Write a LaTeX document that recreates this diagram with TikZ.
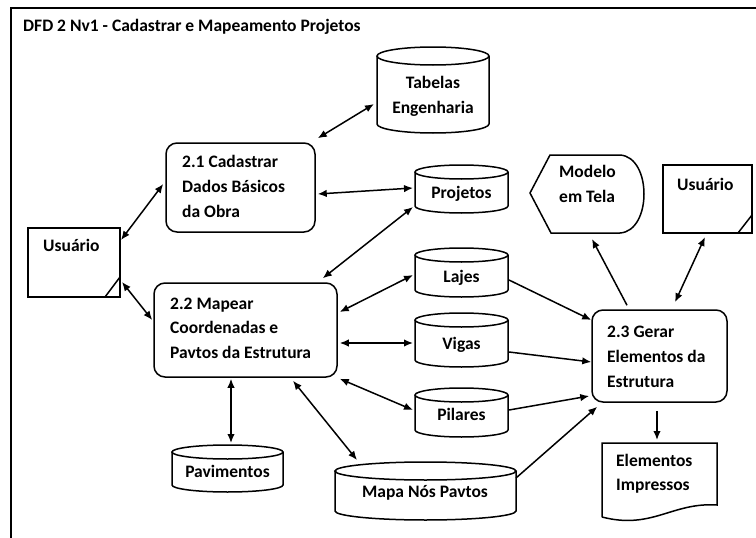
\documentclass[tikz,border=0pt]{standalone}
\usepackage{fontspec}
\setmainfont{Carlito}
\usetikzlibrary{arrows.meta,calc}
\tikzset{
  shp/.style={draw=black, line width=1.5pt},
  box/.style={inner sep=0pt, outer sep=0pt},
  proc/.style={draw=black, line width=1.5pt, rounded corners=11pt, inner sep=0pt},
  txt/.style={inner sep=0pt, align=left, font=\fontsize{17.5}{24.8}\selectfont\bfseries},
  ctxt/.style={inner sep=0pt, align=center, font=\fontsize{17.5}{25}\selectfont\bfseries},
  arr/.style={line width=1.5pt, -{Latex[length=9pt,width=7.5pt]}},
  darr/.style={line width=1.5pt, {Latex[length=9pt,width=7.5pt]}-{Latex[length=9pt,width=7.5pt]}},
}
\newcommand\cylnode[6]{%
  \node[box, minimum width={#4-#2}, minimum height={#5-#3}] (#1) at ({(#2+#4)/2},{(#3+#5)/2}) {};
  \draw[shp] (#2,#3+#6) -- (#2,#5-#6) arc[start angle=180, end angle=0, x radius={(#4-#2)/2}, y radius=#6] -- (#4,#3+#6);
  \draw[shp] ({(#2+#4)/2},#3+#6) ellipse[x radius={(#4-#2)/2}, y radius=#6];
}
\begin{document}
\begin{tikzpicture}[x=1pt, y=-1pt]
\useasboundingbox (0,0) rectangle (756,538);
\fill[white] (0,0) rectangle (756,538);
% frame
\draw[line width=2.2pt] (11,538) -- (11,8) -- (756,8);
\node[txt, anchor=base west] (title) at (23,31) {DFD 2 Nv1 - Cadastrar e Mapeamento Projetos};

% data stores (cylinders)
\cylnode{tab}{377}{47}{489}{133}{9}
\node[ctxt, anchor=base] (ttab) at (433,113) {Tabelas\\Engenharia};
\cylnode{proj}{415}{165}{508}{213}{7}
\node[ctxt, anchor=base] (tproj) at (461.5,198) {Projetos};
\cylnode{lajes}{415}{248}{508}{297}{7}
\node[ctxt, anchor=base] (tlajes) at (461.5,282) {Lajes};
\cylnode{vigas}{415}{313}{508}{367}{7}
\node[ctxt, anchor=base] (tvigas) at (461.5,349) {Vigas};
\cylnode{pil}{415}{388}{508}{437}{7}
\node[ctxt, anchor=base] (tpil) at (461.5,420) {Pilares};
\cylnode{pav}{172}{445}{283}{492}{7}
\node[ctxt, anchor=base] (tpav) at (227.5,477) {Pavimentos};
\cylnode{mapa}{335}{462}{516}{520}{9}
\node[ctxt, anchor=base] (tmapa) at (425,497) {Mapa Nós Pavtos};

% processes
\node[proc, minimum width=149, minimum height=89] (p21) at (240.5,187.5) {};
\node[txt, anchor=base west, font=\fontsize{17.5}{25}\selectfont\bfseries] (t21) at (182,217) {2.1 Cadastrar\\Dados Básicos\\da Obra};
\node[proc, minimum width=183, minimum height=94] (p22) at (245.5,330) {};
\node[txt, anchor=base west, font=\fontsize{17.5}{24.5}\selectfont\bfseries] (t22) at (170,358) {2.2 Mapear\\Coordenadas e\\Pavtos da Estrutura};
\node[proc, minimum width=135, minimum height=92] (p23) at (659.5,356) {};
\node[txt, anchor=base west, font=\fontsize{17.5}{25}\selectfont\bfseries] (t23) at (607,387) {2.3 Gerar\\Elementos da\\Estrutura};

% external entities
\node[box, shp, minimum width=92, minimum height=69] (u1) at (74,262.5) {};
\draw[shp] (105,297) -- (120,277);
\node[txt, anchor=base west] (tu1) at (43,251) {Usuário};
\node[box, shp, minimum width=89, minimum height=68] (u2) at (707.5,199) {};
\draw[shp] (738,233) -- (752,215);
\node[txt, anchor=base west] (tu2) at (677,190) {Usuário};

% display
\node[box, minimum width=117, minimum height=78] (mod) at (588.5,194) {};
\draw[shp] (550,155) -- (620,155) .. controls (652,157) and (652,231) .. (620,233) -- (551,233) -- (530,193) -- cycle;
\node[txt, anchor=base west, font=\fontsize{17.5}{25}\selectfont\bfseries] (tmod) at (559,202) {Modelo\\em Tela};

% document
\node[box, minimum width=115, minimum height=74] (el) at (659.5,480) {};
\draw[shp] (602,517) -- (602,443) -- (717,443) -- (717,505) .. controls (672,502) and (652,530) .. (602,517);
\node[txt, anchor=base west, font=\fontsize{17.5}{24}\selectfont\bfseries] (tel) at (616,490) {Elementos\\Impressos};

% connectors
\draw[darr] ($(p21.north east)+(2,-4)$) -- ($(tab.west)+(-3,14)$);
\draw[darr] ($(p21.east)+(2,6.5)$) -- ($(proj.west)+(-2,-1)$);
\draw[darr] ($(u1.east)+(1,-22.5)$) -- ($(p21.west)+(-2,-3.5)$);
\draw[darr] ($(u1.east)+(2,19.5)$) -- ($(p22.west)+(-1,-10)$);
\draw[darr] ($(p22.north east)+(-15,-4)$) -- ($(proj.west)+(-2,18)$);
\draw[darr] ($(p22.east)+(2,-18)$) -- ($(lajes.west)+(-2,2.5)$);
\draw[darr] ($(p22.east)+(2,13)$) -- ($(vigas.west)+(-2,3)$);
\draw[darr] ($(p22.south east)+(2,1)$) -- ($(pil.west)+(-2,-2.5)$);
\draw[darr] ($(p22.south)+(-14.5,1)$) -- ($(pav.north)+(3.5,-2)$);
\draw[darr] ($(p22.south)+(47.5,3)$) -- ($(mapa.north west)+(22,-2)$);
\draw[arr] ($(lajes.east)+(1,7.5)$) -- ($(p23.west)+(0,-36)$);
\draw[arr] ($(vigas.east)+(1,12)$) -- ($(p23.west)+(0,6)$);
\draw[arr] ($(pil.east)+(1,-2.5)$) -- ($(p23.west)+(-2,40)$);
\draw[arr] ($(mapa.east)+(0,-13)$) -- ($(p23.south west)+(6,4)$);
\draw[arr] ($(p23.north)+(-32.5,-4)$) -- ($(mod.south)+(3.5,6)$);
\draw[darr] ($(p23.north)+(15.5,-7)$) -- ($(u2.south)+(-2.5,4)$);
\draw[arr] ($(p23.south)+(-2.5,8)$) -- ($(el.north)+(-2.5,-3)$);
\end{tikzpicture}
\end{document}
